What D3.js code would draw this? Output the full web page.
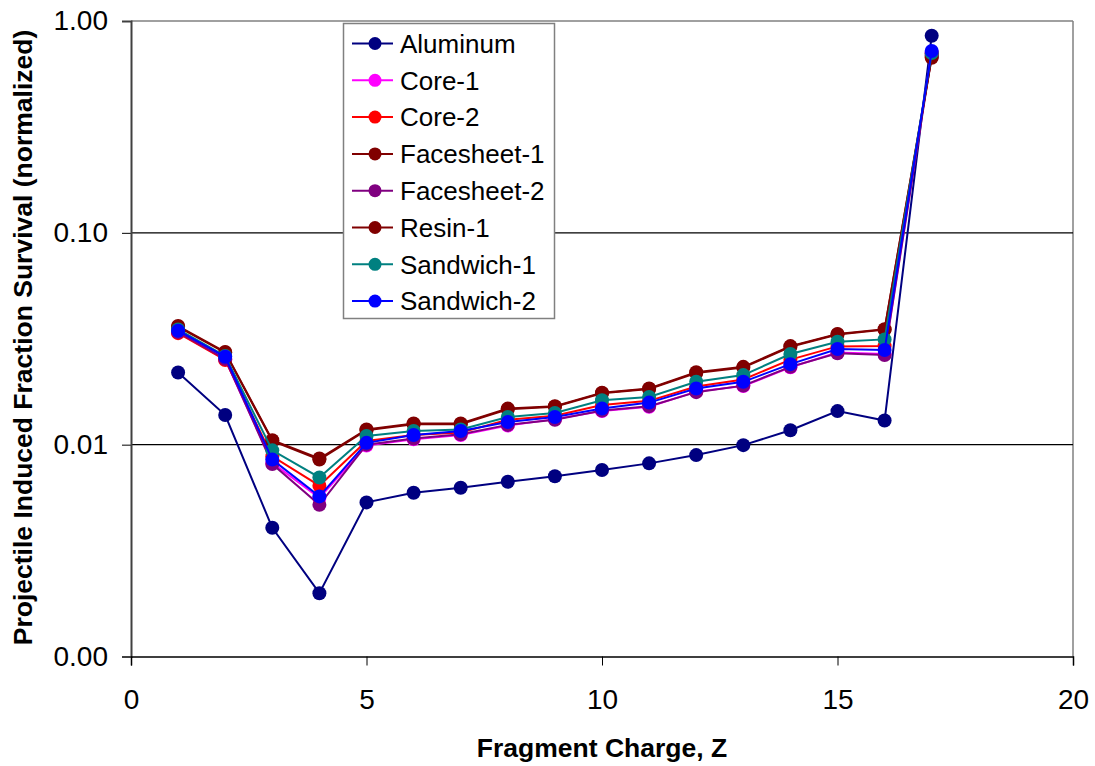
<!DOCTYPE html>
<html>
<head>
<meta charset="utf-8">
<script src="https://cdn.jsdelivr.net/npm/d3@7"></script>
<style>
  html, body { margin: 0; padding: 0; background: #fff; }
  svg { display: block; font-family: "Liberation Sans", Arial, sans-serif; }
</style>
</head>
<body>
<svg id="chart" width="1095" height="766"></svg>
<script>
// Fragment charge Z
const charges = [1, 2, 3, 4, 5, 6, 7, 8, 9, 10, 11, 12, 13, 14, 15, 16, 17];

// Fraction survival per material
const aluminum    = [0.0219, 0.0138, 0.00405, 0.00199, 0.00534, 0.00593, 0.00626, 0.00668, 0.00709, 0.00759, 0.00816, 0.00893, 0.00995, 0.0117, 0.0144, 0.0130, 0.852];
const core1       = [0.0338, 0.0253, 0.0082, 0.0056, 0.0099, 0.0106, 0.0111, 0.0123, 0.0132, 0.0144, 0.0151, 0.0178, 0.0189, 0.0232, 0.0272, 0.0268, 0.710];
const core2       = [0.0336, 0.0251, 0.0088, 0.0064, 0.0104, 0.0111, 0.0114, 0.0131, 0.0137, 0.0154, 0.0161, 0.0188, 0.0203, 0.0252, 0.0291, 0.0292, 0.700];
const facesheet1  = [0.0363, 0.0274, 0.0105, 0.0086, 0.0118, 0.0126, 0.0126, 0.0148, 0.0152, 0.0176, 0.0184, 0.0220, 0.0233, 0.0292, 0.0333, 0.0351, 0.678];
const facesheet2  = [0.0340, 0.0254, 0.0081, 0.0052, 0.0100, 0.0107, 0.0112, 0.0124, 0.0131, 0.0145, 0.0152, 0.0177, 0.0190, 0.0233, 0.0270, 0.0265, 0.690];
const resin1      = [0.0360, 0.0272, 0.0104, 0.0085, 0.0117, 0.0125, 0.0125, 0.0147, 0.0151, 0.0175, 0.0183, 0.0218, 0.0231, 0.0290, 0.0331, 0.0349, 0.670];
const sandwich1   = [0.0350, 0.0262, 0.0094, 0.0070, 0.0110, 0.0116, 0.0118, 0.0135, 0.0141, 0.0162, 0.0168, 0.0198, 0.0213, 0.0268, 0.0306, 0.0314, 0.706];
const sandwich2   = [0.0345, 0.0260, 0.0085, 0.0057, 0.0102, 0.0111, 0.0116, 0.0128, 0.0135, 0.0148, 0.0158, 0.0184, 0.0198, 0.0240, 0.0283, 0.0280, 0.722];

const seriesNames  = ["Aluminum", "Core-1", "Core-2", "Facesheet-1", "Facesheet-2", "Resin-1", "Sandwich-1", "Sandwich-2"];
const seriesValues = [aluminum, core1, core2, facesheet1, facesheet2, resin1, sandwich1, sandwich2];
const seriesColors = ["#000080", "#FF00FF", "#FF0000", "#800000", "#800080", "#800000", "#008080", "#0000FF"];

const xTicks = [0, 5, 10, 15, 20];
const yTicks = [0.001, 0.01, 0.1, 1];

const svg = d3.select("#chart");
const plotLeft = 131, plotRight = 1073, plotTop = 21, plotBottom = 656.5;

const x = d3.scaleLinear().domain([0, 20]).range([plotLeft, plotRight]);
const y = d3.scaleLog().domain([0.001, 1]).range([plotBottom, plotTop]);

// Plot frame: top and right borders
svg.append("line").attr("x1", plotLeft).attr("x2", plotRight).attr("y1", plotTop).attr("y2", plotTop)
  .attr("stroke", "#808080").attr("stroke-width", 1.5);
svg.append("line").attr("x1", plotRight).attr("x2", plotRight).attr("y1", plotTop).attr("y2", plotBottom)
  .attr("stroke", "#808080").attr("stroke-width", 1.5);

// Horizontal gridlines at interior decades
svg.append("g").selectAll("line")
  .data(yTicks.filter(v => v > 0.001 && v < 1))
  .join("line")
  .attr("x1", plotLeft).attr("x2", plotRight)
  .attr("y1", d => y(d)).attr("y2", d => y(d))
  .attr("stroke", "#000").attr("stroke-width", 1.2);

// Axes
const fmt = d3.format(".2f");
const yAxis = svg.append("g").attr("transform", `translate(${plotLeft},0)`)
  .call(d3.axisLeft(y).tickValues(yTicks).tickFormat(fmt).tickSize(9).tickPadding(14));
const xAxis = svg.append("g").attr("transform", `translate(0,${plotBottom})`)
  .call(d3.axisBottom(x).tickValues(xTicks).tickSize(9).tickPadding(24));

yAxis.select(".domain").attr("stroke", "#404040").attr("stroke-width", 2);
xAxis.select(".domain").attr("stroke", "#000").attr("stroke-width", 1.5);
[xAxis, yAxis].forEach(a => {
  a.selectAll(".tick line").attr("stroke", "#000").attr("stroke-width", 1);
  a.selectAll(".tick text").attr("font-size", 28).attr("fill", "#000")
    .attr("font-family", "'Liberation Sans', Arial, sans-serif");
});
yAxis.select(".domain").raise();

// Axis titles
svg.append("text")
  .attr("x", 602).attr("y", 757)
  .attr("text-anchor", "middle")
  .attr("font-size", 26.5).attr("font-weight", "bold")
  .text("Fragment Charge, Z");
svg.append("text")
  .attr("transform", "translate(31.5,337.5) rotate(-90)")
  .attr("text-anchor", "middle")
  .attr("font-size", 26.5).attr("font-weight", "bold")
  .text("Projectile Induced Fraction Survival (normalized)");

// Series lines and markers
const line = d3.line().x((d, i) => x(charges[i])).y(d => y(d));
seriesValues.forEach((vals, s) => {
  const g = svg.append("g");
  g.append("path").datum(vals)
    .attr("d", line).attr("fill", "none")
    .attr("stroke", seriesColors[s]).attr("stroke-width", 2);
  g.selectAll("circle").data(vals).join("circle")
    .attr("cx", (d, i) => x(charges[i])).attr("cy", d => y(d))
    .attr("r", 7).attr("fill", seriesColors[s]);
});

// Legend
const legend = svg.append("g");
legend.append("rect")
  .attr("x", 343.5).attr("y", 23.5).attr("width", 211).attr("height", 295)
  .attr("fill", "#fff").attr("stroke", "#808080").attr("stroke-width", 1.5);
seriesNames.forEach((name, i) => {
  const cy = 43.5 + i * 36.8;
  legend.append("line").attr("x1", 352).attr("x2", 393).attr("y1", cy).attr("y2", cy)
    .attr("stroke", seriesColors[i]).attr("stroke-width", 2);
  legend.append("circle").attr("cx", 375).attr("cy", cy).attr("r", 6.5).attr("fill", seriesColors[i]);
  legend.append("text").attr("x", 400).attr("y", cy).attr("dy", "0.36em")
    .attr("font-size", 26).text(name);
});
</script>
</body>
</html>
